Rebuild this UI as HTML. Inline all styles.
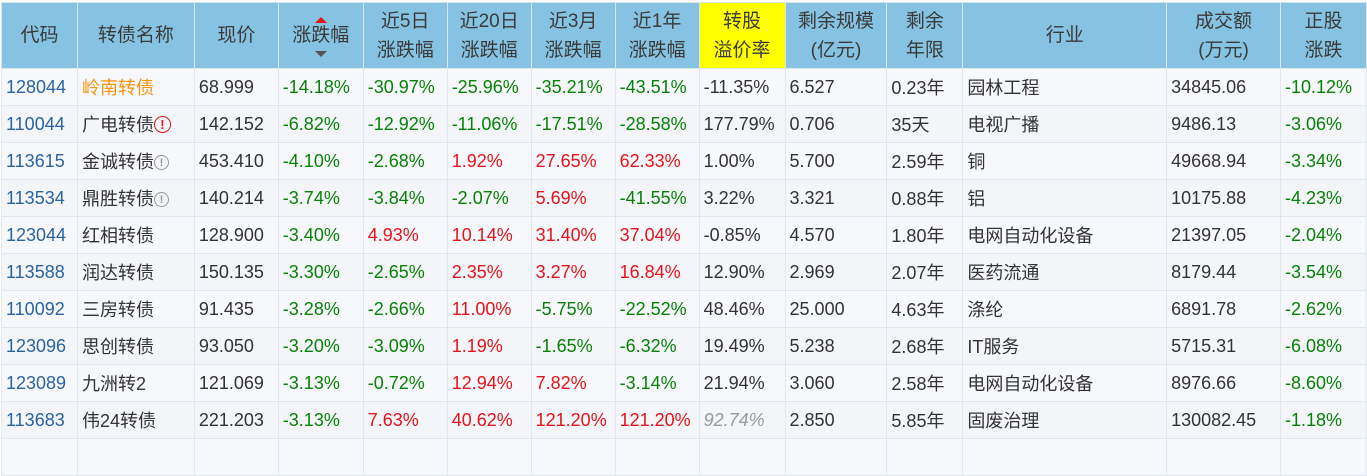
<!DOCTYPE html>
<html><head><meta charset="utf-8"><style>
body{margin:0;background:#fff;width:1367px;height:442px;overflow:hidden;font-family:"Liberation Sans","Noto Sans CJK SC",sans-serif;}
table{position:absolute;left:1px;top:2px;border-collapse:collapse;table-layout:fixed;font-size:18px;}
td,th{border:1px solid #e2e6ee;padding:0 0 0 4px;white-space:nowrap;overflow:hidden;}
th{background:#86c3e3;color:#3a3a3a;font-weight:normal;font-size:19px;height:65px;line-height:29px;text-align:center;padding:0;border-color:#d8e6ef;}
td{height:36px;color:#333;background:#f7f8fb;}
tr:nth-child(odd) td{background:#f3f5f9;}
.c{color:#2a63a0}.g{color:#078207}.r{color:#e4141a}.o{color:#f7930e}
.y{background:#ffff00!important}
.i{display:inline-block;width:15px;height:15px;border:1.5px solid #999;border-radius:50%;font-size:11px;line-height:15px;text-align:center;color:#999;vertical-align:2px;box-sizing:border-box;font-weight:bold}
.ir{border-color:#e4141a;color:#e4141a;width:17px;height:17px;line-height:15px;font-size:13px}
.s{position:relative}
.up,.dn{position:absolute;left:50%;margin-left:-6px;width:0;height:0;border-left:6px solid transparent;border-right:6px solid transparent}
.up{top:14px;border-bottom:6px solid #e4141a}.dn{top:48px;border-top:6px solid #555}
</style></head><body>
<table>
<colgroup><col style="width:76px"><col style="width:117px"><col style="width:84px"><col style="width:85px"><col style="width:84px"><col style="width:84px"><col style="width:84px"><col style="width:84px"><col style="width:86px"><col style="width:102px"><col style="width:76px"><col style="width:204px"><col style="width:114px"><col style="width:86px"></colgroup>
<tr><th>代码</th><th>转债名称</th><th>现价</th><th class="s"><span class="up"></span>涨跌幅<span class="dn"></span></th><th>近5日<br>涨跌幅</th><th>近20日<br>涨跌幅</th><th>近3月<br>涨跌幅</th><th>近1年<br>涨跌幅</th><th class="y">转股<br>溢价率</th><th>剩余规模<br>(亿元)</th><th>剩余<br>年限</th><th>行业</th><th>成交额<br>(万元)</th><th>正股<br>涨跌</th></tr>
<tr><td class="c">128044</td><td class="o">岭南转债</td><td>68.999</td><td class="g">-14.18%</td><td class="g">-30.97%</td><td class="g">-25.96%</td><td class="g">-35.21%</td><td class="g">-43.51%</td><td>-11.35%</td><td>6.527</td><td>0.23年</td><td>园林工程</td><td>34845.06</td><td class="g">-10.12%</td></tr>
<tr><td class="c">110044</td><td>广电转债<span class="i ir">!</span></td><td>142.152</td><td class="g">-6.82%</td><td class="g">-12.92%</td><td class="g">-11.06%</td><td class="g">-17.51%</td><td class="g">-28.58%</td><td>177.79%</td><td>0.706</td><td>35天</td><td>电视广播</td><td>9486.13</td><td class="g">-3.06%</td></tr>
<tr><td class="c">113615</td><td>金诚转债<span class="i">!</span></td><td>453.410</td><td class="g">-4.10%</td><td class="g">-2.68%</td><td class="r">1.92%</td><td class="r">27.65%</td><td class="r">62.33%</td><td>1.00%</td><td>5.700</td><td>2.59年</td><td>铜</td><td>49668.94</td><td class="g">-3.34%</td></tr>
<tr><td class="c">113534</td><td>鼎胜转债<span class="i">!</span></td><td>140.214</td><td class="g">-3.74%</td><td class="g">-3.84%</td><td class="g">-2.07%</td><td class="r">5.69%</td><td class="g">-41.55%</td><td>3.22%</td><td>3.321</td><td>0.88年</td><td>铝</td><td>10175.88</td><td class="g">-4.23%</td></tr>
<tr><td class="c">123044</td><td>红相转债</td><td>128.900</td><td class="g">-3.40%</td><td class="r">4.93%</td><td class="r">10.14%</td><td class="r">31.40%</td><td class="r">37.04%</td><td>-0.85%</td><td>4.570</td><td>1.80年</td><td>电网自动化设备</td><td>21397.05</td><td class="g">-2.04%</td></tr>
<tr><td class="c">113588</td><td>润达转债</td><td>150.135</td><td class="g">-3.30%</td><td class="g">-2.65%</td><td class="r">2.35%</td><td class="r">3.27%</td><td class="r">16.84%</td><td>12.90%</td><td>2.969</td><td>2.07年</td><td>医药流通</td><td>8179.44</td><td class="g">-3.54%</td></tr>
<tr><td class="c">110092</td><td>三房转债</td><td>91.435</td><td class="g">-3.28%</td><td class="g">-2.66%</td><td class="r">11.00%</td><td class="g">-5.75%</td><td class="g">-22.52%</td><td>48.46%</td><td>25.000</td><td>4.63年</td><td>涤纶</td><td>6891.78</td><td class="g">-2.62%</td></tr>
<tr><td class="c">123096</td><td>思创转债</td><td>93.050</td><td class="g">-3.20%</td><td class="g">-3.09%</td><td class="r">1.19%</td><td class="g">-1.65%</td><td class="g">-6.32%</td><td>19.49%</td><td>5.238</td><td>2.68年</td><td>IT服务</td><td>5715.31</td><td class="g">-6.08%</td></tr>
<tr><td class="c">123089</td><td>九洲转2</td><td>121.069</td><td class="g">-3.13%</td><td class="g">-0.72%</td><td class="r">12.94%</td><td class="r">7.82%</td><td class="g">-3.14%</td><td>21.94%</td><td>3.060</td><td>2.58年</td><td>电网自动化设备</td><td>8976.66</td><td class="g">-8.60%</td></tr>
<tr><td class="c">113683</td><td>伟24转债</td><td>221.203</td><td class="g">-3.13%</td><td class="r">7.63%</td><td class="r">40.62%</td><td class="r">121.20%</td><td class="r">121.20%</td><td style="color:#999;font-style:italic">92.74%</td><td>2.850</td><td>5.85年</td><td>固废治理</td><td>130082.45</td><td class="g">-1.18%</td></tr>
<tr><td></td><td></td><td></td><td></td><td></td><td></td><td></td><td></td><td></td><td></td><td></td><td></td><td></td><td></td></tr>
</table>
</body></html>
